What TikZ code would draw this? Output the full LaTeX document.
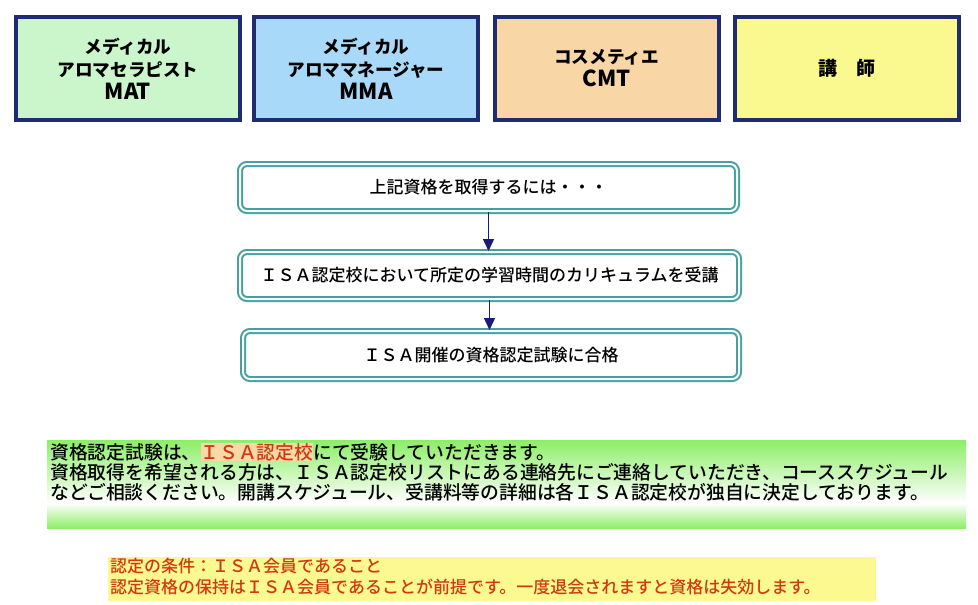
\documentclass[tikz,border=0pt]{standalone}
\usepackage{fontspec}
\setmainfont{Noto Sans CJK JP}
\newfontfamily\medfont{Noto Sans CJK JP Medium}
\usetikzlibrary{arrows.meta}
\definecolor{navy}{HTML}{202C70}
\definecolor{gA}{HTML}{CBF6CB}
\definecolor{bA}{HTML}{A9D9F8}
\definecolor{oA}{HTML}{F8D6A6}
\definecolor{yA}{HTML}{F9F98F}
\definecolor{tealb}{HTML}{45A0A0}
\definecolor{arrc}{HTML}{1A1A7A}
\definecolor{gpan}{HTML}{8CEE66}
\definecolor{ypan}{HTML}{FBF98F}
\definecolor{redt}{HTML}{D03A12}
\definecolor{hlbg}{HTML}{F9D8A8}
\newcommand\latinlbl[1]{{\bfseries\fontsize{22}{23}\selectfont #1}}
\tikzset{
  topbox/.style={draw=navy, line width=4pt, minimum width=224pt, minimum height=103pt,
    inner sep=0pt, align=center, font=\bfseries\fontsize{17.6}{23}\selectfont},
  flowbox/.style={draw=tealb, double=white, double distance=2pt, line width=2pt,
    rounded corners=7pt, minimum height=47pt, inner sep=0pt,
    font=\medfont\fontsize{17}{20}\selectfont},
  arr/.style={draw=arrc, line width=1.5pt, -{Triangle[width=11pt,length=12pt]}},
  paneltext/.style={anchor=north west, inner sep=0pt, align=left}
}
\begin{document}
\begin{tikzpicture}[x=1pt,y=-1pt]
\useasboundingbox (0,0) rectangle (978,605);
\fill[white] (0,0) rectangle (978,605);
% top boxes
\node[topbox, fill=gA] (b1) at (128,68.5) {メディカル\\アロマセラピスト\\\latinlbl{MAT}};
\node[topbox, fill=bA] (b2) at (366,68.5) {メディカル\\アロママネージャー\\\latinlbl{MMA}};
\node[topbox, fill=oA] (b3) at (606.5,68.5) {コスメティエ\\\latinlbl{CMT}};
\node[topbox, fill=yA, font=\bfseries\fontsize{19}{23}\selectfont] (b4) at (846.5,68.5) {講　師};
% flow boxes
\node[flowbox, minimum width=497pt] (fa) at (488.5,187.5) {上記資格を取得するには・・・};
\node[flowbox, minimum width=499pt] (fb) at (489.5,275.5) {ＩＳＡ認定校において所定の学習時間のカリキュラムを受講};
\node[flowbox, minimum width=496pt, minimum height=48pt] (fc) at (491,355) {ＩＳＡ開催の資格認定試験に合格};
\draw[arr] (fa.south) -- (fa.south |- fb.north);
\draw[arr] (fb.south) -- (fb.south |- fc.north);
% green panel
\shade[top color=gpan, bottom color=white] (47,440) rectangle (966,503);
\shade[top color=white, bottom color=gpan] (47,503) rectangle (966,528.5);
\node[paneltext, font=\medfont\fontsize{18.8}{20}\selectfont] (gt) at (50,443) {資格認定試験は、{\setlength\fboxsep{0pt}\colorbox{hlbg}{\color{redt}ＩＳＡ認定校}}にて受験していただきます。\\資格取得を希望される方は、ＩＳＡ認定校リストにある連絡先にご連絡していただき、コーススケジュール\\などご相談ください。開講スケジュール、受講料等の詳細は各ＩＳＡ認定校が独自に決定しております。};
% yellow panel
\fill[ypan] (108,557) rectangle (876,601);
\node[paneltext, text=redt, font=\medfont\fontsize{17}{20.5}\selectfont] (yt) at (110,558) {認定の条件：ＩＳＡ会員であること\\認定資格の保持はＩＳＡ会員であることが前提です。一度退会されますと資格は失効します。};
\end{tikzpicture}
\end{document}
